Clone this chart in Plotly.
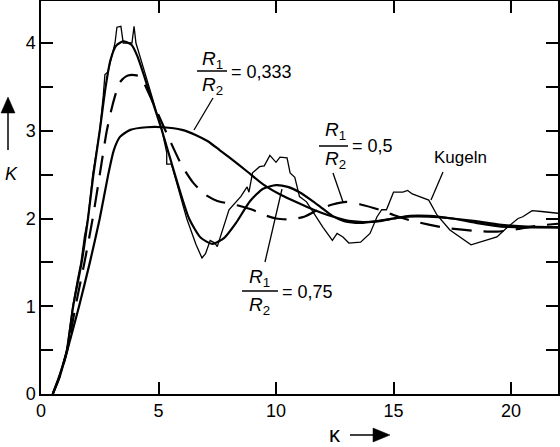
import plotly.graph_objects as go

# ---------------- data ----------------
r0333_x = [0.5, 0.8, 1.1, 1.62, 2.08, 2.5, 2.86, 3.1, 3.36, 3.8, 4.5, 5.2, 6.0, 6.6, 7.1, 7.6, 8.0, 8.8, 9.5, 10.2, 11.0, 11.6, 12.2, 12.7, 13.2, 13.7, 14.4, 15.0, 15.6, 16.5, 17.5, 18.5, 19.5, 20.5, 22.0]
r0333_y = [0.0, 0.2, 0.48, 1.0, 1.5, 2.0, 2.5, 2.78, 2.93, 3.01, 3.04, 3.04, 3.01, 2.95, 2.88, 2.78, 2.7, 2.53, 2.38, 2.27, 2.17, 2.1, 2.04, 2.0, 1.97, 1.96, 1.97, 2.0, 2.02, 2.02, 2.0, 1.97, 1.93, 1.91, 1.9]

r05_x = [0.5, 0.8, 1.1, 1.47, 1.85, 2.2, 2.5, 2.8, 3.05, 3.35, 3.7, 4.2, 4.6, 5.0, 5.5, 6.0, 6.5, 7.0, 7.5, 8.0, 8.5, 9.0, 9.5, 10.0, 10.6, 11.2, 11.8, 12.4, 13.0, 13.6, 14.4, 15.0, 15.7, 16.5, 17.3, 18.4, 19.4, 20.3, 21.2, 22.0]
r05_y = [0.0, 0.2, 0.48, 1.0, 1.5, 2.0, 2.5, 3.0, 3.3, 3.55, 3.63, 3.62, 3.42, 3.18, 2.88, 2.6, 2.4, 2.27, 2.2, 2.17, 2.14, 2.1, 2.04, 2.0, 1.99, 2.02, 2.1, 2.16, 2.19, 2.16, 2.1, 2.04, 1.98, 1.93, 1.89, 1.86, 1.85, 1.88, 1.92, 1.94]

r075_x = [0.5, 0.8, 1.1, 1.37, 1.73, 2.0, 2.23, 2.5, 2.75, 2.95, 3.2, 3.5, 3.85, 4.1, 4.6, 5.15, 5.7, 6.3, 6.8, 7.3, 7.8, 8.3, 8.9, 9.45, 10.0, 10.5, 11.0, 11.5, 11.9, 12.4, 12.9, 13.6, 14.3, 15.0, 15.7, 16.5, 17.5, 18.5, 19.5, 20.5, 22.0]
r075_y = [0.0, 0.22, 0.5, 1.0, 1.5, 2.0, 2.5, 3.0, 3.5, 3.8, 3.97, 4.02, 3.98, 3.85, 3.45, 3.0, 2.5, 2.0, 1.78, 1.71, 1.78, 1.95, 2.2, 2.34, 2.38, 2.36, 2.3, 2.21, 2.13, 2.03, 1.97, 1.95, 1.97, 2.0, 2.03, 2.03, 2.0, 1.95, 1.91, 1.9, 1.9]

kug_x = [0.5, 0.8, 1.1, 1.35, 1.55, 1.7, 1.85, 2.0, 2.2, 2.5, 2.65, 2.72, 2.85, 3.15, 3.23, 3.4, 3.5, 3.87, 3.96, 4.04, 4.6, 5.15, 5.35, 5.35, 5.55, 6.2, 6.6, 6.85, 7.0, 7.2, 7.4, 7.5, 8.0, 8.5, 8.77, 8.85, 9.0, 9.3, 9.5, 9.74, 10.0, 10.17, 10.47, 10.6, 10.8, 11.0, 11.3, 11.6, 12.0, 12.4, 12.6, 12.85, 13.1, 13.6, 14.0, 14.3, 14.5, 14.7, 14.85, 15.0, 15.4, 15.6, 15.8, 16.1, 16.5, 16.85, 17.4, 18.3, 19.4, 19.8, 20.3, 20.5, 20.9, 21.3, 22.0]
kug_y = [0.0, 0.22, 0.5, 1.0, 1.3, 1.5, 1.8, 2.0, 2.5, 3.0, 3.4, 3.64, 3.67, 4.0, 4.18, 4.19, 4.0, 4.0, 4.19, 4.0, 3.5, 3.0, 2.75, 2.62, 2.62, 2.0, 1.7, 1.55, 1.6, 1.75, 1.72, 1.68, 2.1, 2.25, 2.36, 2.3, 2.52, 2.59, 2.6, 2.72, 2.64, 2.7, 2.69, 2.52, 2.47, 2.25, 2.19, 2.06, 1.9, 1.75, 1.83, 1.79, 1.72, 1.73, 1.83, 2.02, 2.1, 2.1, 2.2, 2.3, 2.3, 2.32, 2.28, 2.25, 2.21, 2.04, 1.87, 1.7, 1.79, 1.89, 2.0, 2.02, 2.09, 2.08, 2.06]

x_ticks = [0, 5, 10, 15, 20]
x_ticktext = ["0", "5", "10", "15", "20"]
y_ticks = [0, 0.5, 1, 1.5, 2, 2.5, 3, 3.5, 4]
y_ticktext = ["0", "", "1", "", "2", "", "3", "", "4"]

# ---------------- layout geometry ----------------
W, H = 560, 447
L, R, T, B = 41, 2, 1, 53
X0_PX, XS = 41.0, 23.5        # pixel of x=0, pixels per unit
Y0_PX, YS = 394.0, 87.75      # pixel of y=0, pixels per unit
XMAX = (W - R - X0_PX) / XS
YMAX = (Y0_PX - T) / YS
PW, PH = W - L - R, H - T - B


def dx(px):
    return (px - X0_PX) / XS


def dy(py):
    return (Y0_PX - py) / YS


def px_(px):
    return (px - L) / PW


def py_(py):
    return (H - B - py) / PH


fig = go.Figure()
fig.add_trace(go.Scatter(x=r0333_x, y=r0333_y, mode="lines", line=dict(color="black", width=2.2, shape="spline", smoothing=0.6), name="0.333"))
fig.add_trace(go.Scatter(x=r05_x, y=r05_y, mode="lines", line=dict(color="black", width=2.2, dash="20px,12px", shape="spline", smoothing=0.6), name="0.5"))
fig.add_trace(go.Scatter(x=r075_x, y=r075_y, mode="lines", line=dict(color="black", width=2.2, shape="spline", smoothing=0.6), name="0.75"))
fig.add_trace(go.Scatter(x=kug_x, y=kug_y, mode="lines", line=dict(color="black", width=1.3), name="Kugeln"))

FONT = "Liberation Sans, Arial, Helvetica, sans-serif"
anns = []
shapes = []


def frac(cx_px, num_py, den_py, bar_py, bar_x0, bar_x1, value, val_px, val_py):
    anns.append(dict(x=dx(cx_px), y=dy(num_py), xref="x", yref="y", text="<i>R</i><sub>1</sub>", showarrow=False, font=dict(family=FONT, size=19, color="black"), xanchor="center", yanchor="middle"))
    anns.append(dict(x=dx(cx_px), y=dy(den_py), xref="x", yref="y", text="<i>R</i><sub>2</sub>", showarrow=False, font=dict(family=FONT, size=19, color="black"), xanchor="center", yanchor="middle"))
    shapes.append(dict(type="line", xref="x", yref="y", x0=dx(bar_x0), x1=dx(bar_x1), y0=dy(bar_py), y1=dy(bar_py), line=dict(color="black", width=1.5)))
    anns.append(dict(x=dx(val_px), y=dy(val_py), xref="x", yref="y", text="= " + value, showarrow=False, font=dict(family=FONT, size=18, color="black"), xanchor="left", yanchor="middle"))


def leader(x0, y0, x1, y1):
    shapes.append(dict(type="line", xref="x", yref="y", x0=dx(x0), y0=dy(y0), x1=dx(x1), y1=dy(y1), line=dict(color="black", width=1.3)))


frac(212, 60, 86, 71, 197, 227, "0,333", 229, 72)
leader(213, 98, 194, 130)
frac(335, 131, 160, 146, 319, 348, "0,5", 350, 146)
leader(333, 173, 343, 202)
frac(259, 278, 306, 291, 242, 278, "0,75", 280, 292)
leader(265, 262, 282, 189)
anns.append(dict(x=dx(460), y=dy(157), xref="x", yref="y", text="Kugeln", showarrow=False, font=dict(family=FONT, size=17, color="black"), xanchor="center", yanchor="middle"))
leader(443, 172, 431, 200)

# axis labels and arrows (outside the plot area, paper coords)
anns.append(dict(x=px_(11), y=py_(174), xref="paper", yref="paper", text="<i>K</i>", showarrow=False, font=dict(family=FONT, size=18, color="black"), xanchor="center", yanchor="middle"))
shapes.append(dict(type="line", xref="paper", yref="paper", x0=px_(8), x1=px_(8), y0=py_(150), y1=py_(110), line=dict(color="black", width=1.5)))
shapes.append(dict(type="path", xref="paper", yref="paper", path=f"M {px_(8)} {py_(97)} L {px_(1)} {py_(113)} L {px_(15)} {py_(113)} Z", fillcolor="black", line=dict(color="black", width=0.5)))
anns.append(dict(x=px_(335), y=py_(434), xref="paper", yref="paper", text="κ", showarrow=False, font=dict(family=FONT, size=22, color="black"), xanchor="center", yanchor="middle"))
shapes.append(dict(type="line", xref="paper", yref="paper", x0=px_(350), x1=px_(376), y0=py_(435), y1=py_(435), line=dict(color="black", width=1.5)))
shapes.append(dict(type="path", xref="paper", yref="paper", path=f"M {px_(390)} {py_(435)} L {px_(373)} {py_(428)} L {px_(373)} {py_(442)} Z", fillcolor="black", line=dict(color="black", width=0.5)))

fig.update_layout(
    width=W, height=H,
    margin=dict(l=L, r=R, t=T, b=B, pad=0, autoexpand=False),
    paper_bgcolor="white", plot_bgcolor="white",
    showlegend=False,
    font=dict(family=FONT, size=18, color="black"),
    annotations=anns, shapes=shapes,
)
fig.update_xaxes(range=[0, XMAX], tickvals=x_ticks, ticktext=x_ticktext, ticks="inside", ticklen=12, tickwidth=1.5, tickcolor="black",
                 showline=True, linecolor="black", linewidth=1.5, mirror="ticks", showgrid=False, zeroline=False, automargin=False,
                 tickfont=dict(family=FONT, size=18, color="black"))
fig.update_yaxes(range=[0, YMAX], tickvals=y_ticks, ticktext=y_ticktext, ticks="inside", ticklen=12, tickwidth=1.5, tickcolor="black",
                 showline=True, linecolor="black", linewidth=1.5, mirror="ticks", showgrid=False, zeroline=False, automargin=False,
                 tickfont=dict(family=FONT, size=18, color="black"))

fig.write_html("out.html", config={"displayModeBar": False},
               post_script="document.body.style.margin='0';document.body.style.padding='0';")
